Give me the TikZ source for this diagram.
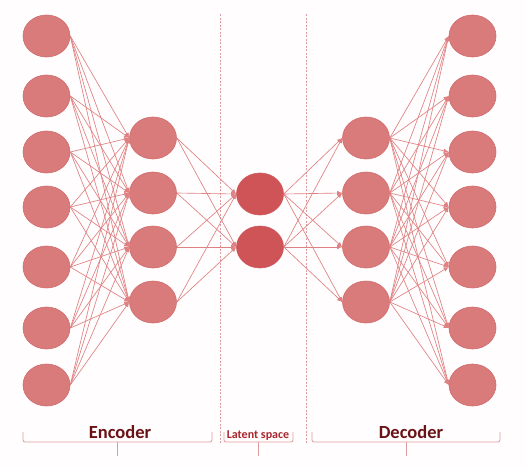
\documentclass[tikz,border=0pt]{standalone}
\usepackage{fontspec}
\setmainfont{Carlito}
\usetikzlibrary{shapes.geometric,arrows.meta}

\definecolor{cellred}{HTML}{D97A7B}
\definecolor{cellrim}{HTML}{D26A6C}
\definecolor{latred}{HTML}{CF5458}
\definecolor{wirered}{HTML}{DF8183}
\definecolor{textred}{HTML}{6A1216}
\definecolor{smallred}{HTML}{A8262C}
\definecolor{bracered}{HTML}{DE9C9E}

\begin{document}
\begin{tikzpicture}[x=1pt, y=-1pt,
    cell/.style={ellipse, fill=cellred, draw=cellrim, line width=0.6pt, minimum width=47pt, minimum height=42pt, inner sep=0pt},
    latcell/.style={cell, fill=latred, draw=latred},
    wire/.style={draw=wirered, line width=0.65pt, -{Latex[length=5pt,width=4.5pt]}},
    sep/.style={draw=bracered, dashed, dash pattern=on 2pt off 1.5pt, line width=0.6pt},
    brace/.style={draw=bracered, line width=0.8pt, rounded corners=2pt},
    label/.style={text=textred, inner sep=0pt}]
      \useasboundingbox (0,0) rectangle (526,469);
      \fill[white!97!pink] (0,0) rectangle (526,469);

      % separators
      \draw[sep] (220,14) -- (220,444);
      \draw[sep] (306,14) -- (306,444);

      % layers
      \foreach \y [count=\i] in {36,96,152,207,267,328,385} {
        \node[cell] (in\i) at (46.5,\y) {};
        \node[cell] (out\i) at (472.5,\y) {};
      }
      \foreach \y [count=\i] in {138,193,247,302} {
        \node[cell] (enc\i) at (153,\y) {};
        \node[cell] (dec\i) at (366,\y) {};
      }
      \node[latcell] (lat1) at (260,194) {};
      \node[latcell] (lat2) at (260,247) {};

      % connections
      \foreach \i in {1,...,7} {
        \foreach \j in {1,...,4} {
          \draw[wire] (in\i.east) -- (enc\j.west);
          \draw[wire] (dec\j.east) -- (out\i.west);
        }
      }
      \foreach \j in {1,...,4} {
        \foreach \k in {1,2} {
          \draw[wire] (enc\j.east) -- (lat\k.west);
          \draw[wire] (lat\k.east) -- (dec\j.west);
        }
      }

      % braces
      \draw[brace] (23,432) -- (23,442) -- (212,442) -- (212,432);
      \draw[brace] (117,442) -- (117,456);
      \draw[brace] (224,432) -- (224,442) -- (293,442) -- (293,432);
      \draw[brace] (258,442) -- (258,456);
      \draw[brace] (312,432) -- (312,442) -- (500,442) -- (500,432);
      \draw[brace] (406,442) -- (406,456);

      \node[label, font=\bfseries\fontsize{18.5}{20}\selectfont] (enclab) at (120,432) {Encoder};
      \node[label, text=smallred, font=\bfseries\fontsize{12}{14}\selectfont] (latlab) at (258,436) {Latent space};
      \node[label, font=\bfseries\fontsize{18.5}{20}\selectfont] (declab) at (411,432) {Decoder};
    \end{tikzpicture}
\end{document}
